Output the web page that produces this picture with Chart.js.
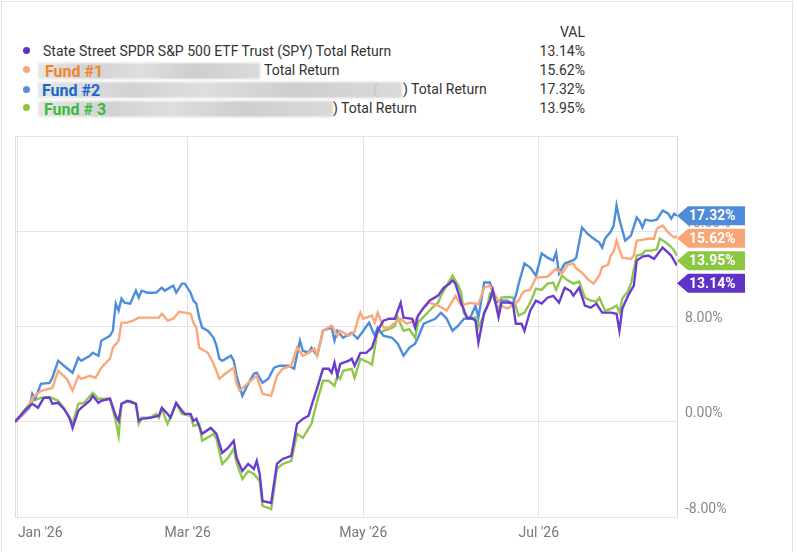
<!DOCTYPE html>
<html>
<head>
<meta charset="utf-8">
<script src="https://cdn.jsdelivr.net/npm/chart.js@4.4.1/dist/chart.umd.min.js"></script>
<style>
  html, body { margin: 0; padding: 0; background: #fff; }
  body { width: 797px; height: 552px; position: relative; overflow: hidden; font-family: Roboto, "Noto Sans", sans-serif; color: #333; }
  #frame { position: absolute; left: 1px; top: 1px; width: 792px; height: 560px; border: 1px solid #e2e2e2; box-sizing: border-box; }
  .row { position: absolute; height: 18px; line-height: 18px; font-size: 14px; white-space: nowrap; }
  .dot { position: absolute; width: 7px; height: 7px; border-radius: 50%; }
  .val { position: absolute; right: 212px; font-size: 14px; height: 18px; line-height: 18px; }
  .blur { position: absolute; height: 16px; filter: blur(1.2px);
          background: linear-gradient(90deg, #e6e6e6, #d2d2d2 25%, #dedede 45%, #cecece 70%, #dadada); }
  .fund { position: absolute; font-size: 16px; font-weight: bold; height: 20px; line-height: 20px; white-space: nowrap; }
  #wrap { position: absolute; left: 0; top: 120px; width: 797px; height: 432px; }
</style>
</head>
<body>
<div id="frame"></div>

<div class="val" style="top:23px">VAL</div>

<div class="dot" style="left:23px;top:47px;background:#5b30c6"></div>
<div class="row" style="left:43px;top:42px">State Street SPDR S&amp;P 500 ETF Trust (SPY) Total Return</div>
<div class="val" id="v0" style="top:42px"></div>

<div class="dot" style="left:23px;top:66px;background:#f9a87c"></div>
<div class="blur" style="left:38px;top:63px;width:222px"></div>
<div class="fund" style="left:45px;top:62px;color:#f0862c">Fund #1</div>
<div class="row" style="left:264px;top:61px">Total Return</div>
<div class="val" id="v1" style="top:61px"></div>

<div class="dot" style="left:23px;top:86px;background:#5b8fd9"></div>
<div class="blur" style="left:38px;top:82px;width:364px"></div>
<div class="row" style="left:373px;top:80px;color:#c8c8c8">(</div>
<div class="fund" style="left:42px;top:81px;color:#1868cc">Fund #2</div>
<div class="row" style="left:403px;top:80px">) Total Return</div>
<div class="val" id="v2" style="top:80px"></div>

<div class="dot" style="left:23px;top:104px;background:#8cc63f"></div>
<div class="blur" style="left:38px;top:101px;width:295px"></div>
<div class="fund" style="left:44px;top:100px;color:#3cba40">Fund # 3</div>
<div class="row" style="left:333px;top:99px">) Total Return</div>
<div class="val" id="v3" style="top:99px"></div>

<div id="wrap"><canvas id="chart"></canvas></div>

<script>
// x values are days since Jan 1 2026
const spyDays = [-1,3,5,7,9,11,12,14,16,18,19,21,22,25,26,28,29,32,34,35,36,38,41,42,43,46,49,50,52,53,55,57,58,60,61,62,64,67,69,71,73,75,76,78,80,82,83,84,85,88,90,92,95,97,99,101,102,104,106,108,109,110,111,112,115,116,117,119,121,123,125,127,129,131,133,134,137,138,139,141,143,146,148,150,151,152,153,154,156,158,159,160,162,164,165,167,168,170,172,173,175,176,178,180,182,184,186,188,190,192,193,195,197,199,201,203,206,208,209,210,212,214,215,217,219,221,224,226,227,229];
const spyVals = [0,1.09,1.52,1.18,2.02,2.02,1.52,1.6,1.09,0.34,-0.51,0.93,1.18,1.77,2.19,1.6,1.77,1.94,0.51,0.08,1.52,1.77,1.52,0.08,0.25,0.34,0.51,1.18,0.67,0.34,1.6,0.93,0.67,0.67,0.08,0.25,-1.01,-0.51,-1.01,-2.61,-2.19,-1.6,-3.03,-4.13,-3.54,-3.96,-3.28,-4.38,-6.65,-6.82,-3.54,-3.12,-2.86,-0.17,0.25,0.51,1.35,2.86,4.46,4.46,4.13,4.97,3.87,4.88,5.14,5.31,4.72,5.8,5.8,6.23,7.66,8.51,8.67,8.67,10.02,8.76,8.67,7.92,8.93,9.6,10.19,10.61,11.28,11.62,11.9,11.62,10.86,10.0,8.76,8.67,8.51,6.65,9.18,10.19,11.1,8.8,10.02,10.02,9.94,8.25,8.25,7.66,9.35,10.19,9.94,10.44,10.6,10.02,11.28,11.0,10.61,11.28,9.77,9.6,9.94,9.18,9.18,9.09,7.66,9.52,10.61,11.45,13.56,13.9,13.98,13.7,14.65,14.2,13.98,13.14];

const fund1Days = [-1,2,4,5,8,11,12,14,17,19,21,22,25,27,29,32,33,35,36,38,40,42,43,46,49,50,52,54,56,58,60,61,62,63,66,68,70,72,75,76,77,80,83,85,88,90,92,95,97,99,101,103,104,106,109,111,112,115,117,118,119,120,123,124,125,127,129,131,133,135,138,141,143,146,149,152,154,157,160,162,164,166,168,170,172,174,175,176,178,180,184,187,189,191,193,194,196,198,200,202,203,205,206,207,208,209,210,213,214,215,217,219,221,222,224,226,228,229];
const fund1Vals = [0,0.67,1.3,2.0,2.61,2.78,2.86,4.29,3.62,2.61,3.87,3.62,3.87,3.71,4.55,5.31,6.23,6.82,8.34,8.34,8.51,8.76,8.76,8.76,8.76,9.09,8.51,8.67,9.26,9.18,9.09,8.34,7.92,6.23,5.81,4.88,3.62,4.04,4.55,3.2,2.61,3.28,3.87,2.36,2.19,3.87,4.46,4.72,6.23,5.56,5.81,6.15,5.56,7.66,8.08,7.24,7.66,7.24,7.6,8.51,9.18,8.67,8.93,8.34,9.18,7.92,7.92,8.34,8.67,8.25,8.51,9.6,10.02,9.77,9.35,10.6,9.8,10.0,9.9,11.28,11.45,10.6,9.77,9.52,9.8,10.2,10.7,11.0,11.1,12.13,12.2,12.88,12.46,13.2,13.31,12.9,12.55,12.0,11.62,12.29,13.0,13.2,13.98,14.3,15.24,14.5,13.81,13.7,13.98,15.24,15.3,15.41,15.4,16.25,16.51,15.9,15.49,15.62];

const fund2Days = [-1,2,4,5,6,8,11,12,14,16,19,21,22,25,26,28,29,32,33,34,35,36,37,39,41,42,43,45,48,50,51,54,55,57,58,60,61,62,63,64,66,68,69,70,71,74,75,76,78,80,82,83,85,87,89,91,94,96,98,99,101,102,104,106,109,110,111,113,116,118,120,122,124,125,127,130,132,134,136,138,139,141,145,147,149,151,153,155,157,159,160,162,164,166,167,170,172,173,174,176,178,180,182,184,186,187,188,190,193,194,196,198,200,202,203,204,206,207,208,209,211,213,215,216,217,218,220,222,224,226,227,228,229];
const fund2Vals = [0,0.67,1.18,2.36,1.94,3.2,3.28,3.71,5.14,4.72,4.13,5.39,5.14,5.56,5.81,5.56,6.82,7.24,7.66,9.94,9.35,10.36,10.02,9.94,11.03,10.44,11.03,10.86,10.86,11.28,11.03,11.45,10.86,11.62,11.62,10.86,10.19,9.94,8.76,7.92,7.66,7.07,6.4,5.31,5.14,5.56,5.14,3.87,2.19,3.2,4.04,4.13,3.28,3.62,4.55,4.72,4.72,4.46,6.82,5.98,5.81,6.23,5.56,7.66,7.92,6.82,7.66,7.07,7.49,6.99,7.66,8.34,7.24,7.92,7.24,7.07,6.57,5.56,6.23,6.57,7.07,8.25,8.67,9.18,8.67,7.66,8.08,8.67,8.67,9.77,8.76,11.71,11.71,10.02,10.19,10.19,9.94,10.6,11.62,13.31,12.97,12.29,14.15,13.81,13.56,14.23,12.46,13.31,13.6,13.81,16.34,15.8,15.41,15.07,14.65,15.41,16.0,16.51,18.19,17.0,15.24,15.66,17.18,16.9,16.34,17.0,16.9,17.0,17.77,17.5,17.09,17.5,17.32];

const fund3Days = [-1,3,5,8,11,14,16,19,21,23,26,28,32,34,35,36,39,41,42,43,46,48,49,50,52,55,57,60,61,63,64,68,69,71,73,75,76,78,80,82,84,85,88,90,92,95,97,99,102,104,106,108,110,111,112,113,116,117,119,122,123,125,126,127,130,131,132,134,136,138,139,142,144,146,147,150,151,153,154,155,157,159,160,161,163,164,165,167,168,170,172,174,176,178,180,182,184,186,187,189,191,193,195,197,199,201,202,204,206,208,209,210,212,213,215,217,218,220,222,223,225,227,228,229];
const fund3Vals = [0,1.2,1.77,2.02,2.1,1.77,1.18,-0.17,1.52,1.6,2.44,1.94,1.94,0.08,-1.18,1.52,1.77,1.52,-0.17,0.34,0.34,0.67,0.34,1.09,-0.17,1.52,0.67,0.51,-0.34,-0.17,-1.6,-1.01,-1.43,-3.54,-3.03,-2.27,-3.45,-4.8,-4.13,-4.38,-4.97,-7.07,-7.33,-3.96,-3.54,-3.28,-1.01,-1.35,-0.17,1.77,3.45,3.45,3.03,3.87,3.62,4.29,4.46,3.71,5.31,4.97,4.8,7.66,7.5,7.66,7.9,8.08,8.76,7.66,7.8,7.07,8.34,9.09,9.6,10.02,10.6,11.87,12.29,11.45,10.9,9.09,8.67,8.8,7.92,8.5,9.6,10.78,10.6,9.35,10.44,10.5,10.44,8.93,9.18,10.02,11.2,11.1,11.62,11.71,11.1,12.29,11.9,11.62,11.8,10.44,10.2,10.1,10.44,9.35,9.5,9.77,9.2,10.36,11.0,11.62,13.98,14.1,14.4,14.4,14.5,15.41,15.1,14.7,14.4,13.95];

const tickDays = [0, 59, 120, 181];
const tickLabels = ["Jan '26", "Mar '26", "May '26", "Jul '26"];
const lastDay = 229;

const seriesNames = ["SPY", "Fund #1", "Fund #2", "Fund #3"];
const lineColors = ["#6a3dd0", "#fba77a", "#4e8ddb", "#8fc74a"];
const tagColors = ["#5f33c8", "#f9a676", "#4f8bd9", "#8bc744"];

function pts(days, vals) {
  return days.map((d, i) => ({ x: d, y: vals[i] }));
}

const allSeries = [[spyDays, spyVals], [fund1Days, fund1Vals], [fund2Days, fund2Vals], [fund3Days, fund3Vals]];

allSeries.forEach((s, i) => {
  const v = s[1][s[1].length - 1];
  document.getElementById("v" + i).textContent = v.toFixed(2) + "%";
});

// left edge of plot + value tags on the right
const framePlugin = {
  id: 'frame',
  beforeDatasetsDraw(chart) {
    const { ctx, chartArea: a } = chart;
    ctx.save();
    ctx.strokeStyle = '#dcdcdc';
    ctx.lineWidth = 1;
    ctx.beginPath();
    ctx.moveTo(a.left + 0.5, a.top);
    ctx.lineTo(a.left + 0.5, a.bottom);
    ctx.stroke();
    ctx.restore();
  },
  afterDatasetsDraw(chart) {
    const { ctx, chartArea: a } = chart;
    const tags = chart.data.datasets.map((ds, i) => {
      const meta = chart.getDatasetMeta(i);
      const p = meta.data[meta.data.length - 1];
      return { y: p.y, v: ds.data[ds.data.length - 1].y, c: tagColors[i] };
    }).sort((p, q) => p.y - q.y);
    const h = 19, step = 22.5;
    let prev = -Infinity;
    ctx.save();
    ctx.font = 'bold 14px Roboto';
    ctx.textBaseline = 'middle';
    ctx.textAlign = 'left';
    tags.forEach(t => {
      const y = Math.max(t.y, prev + step);
      prev = y;
      const x0 = a.right, x1 = a.right + 11, x2 = a.right + 68;
      ctx.fillStyle = t.c;
      ctx.beginPath();
      ctx.moveTo(x0, y);
      ctx.lineTo(x1, y - h / 2);
      ctx.lineTo(x2, y - h / 2);
      ctx.lineTo(x2, y + h / 2);
      ctx.lineTo(x1, y + h / 2);
      ctx.closePath();
      ctx.fill();
      ctx.fillStyle = '#fff';
      ctx.fillText(t.v.toFixed(2) + '%', x1 + 1, y + 1);
    });
    ctx.restore();
  }
};

new Chart(document.getElementById('chart'), {
  type: 'line',
  data: {
    datasets: allSeries.map((s, i) => ({
      label: seriesNames[i],
      data: pts(s[0], s[1]),
      borderColor: lineColors[i],
      borderWidth: 2.4,
      pointRadius: 0,
      tension: 0
    }))
  },
  options: {
    responsive: true,
    maintainAspectRatio: false,
    animation: false,
    layout: { padding: { left: 15, top: 16, right: 0, bottom: 0 } },
    scales: {
      x: {
        type: 'linear',
        min: -1,
        max: lastDay,
        afterBuildTicks(scale) {
          scale.ticks = tickDays.map(v => ({ value: v })).concat([{ value: lastDay }]);
        },
        afterFit(scale) { scale.height = 35; },
        ticks: {
          autoSkip: false,
          maxRotation: 0,
          align: 'inner',
          padding: 8,
          color: '#777',
          font: { family: 'Roboto', size: 14 },
          callback: (v) => {
            const k = tickDays.indexOf(v);
            return k >= 0 ? tickLabels[k] : '';
          }
        },
        grid: { color: '#e3e3e3', drawTicks: false },
        border: { display: false }
      },
      y: {
        position: 'right',
        min: -8,
        max: 24,
        afterFit(scale) { scale.width = 120; },
        ticks: {
          stepSize: 8,
          padding: 8,
          labelOffset: -8,
          color: '#888',
          font: { family: 'Roboto', size: 14 },
          callback: (v) => v >= 24 ? '' : v.toFixed(2) + '%'
        },
        grid: { color: '#e3e3e3', drawTicks: false },
        border: { color: '#dcdcdc' }
      }
    },
    plugins: {
      legend: { display: false },
      tooltip: { enabled: false }
    }
  },
  plugins: [framePlugin]
});
</script>
</body>
</html>
